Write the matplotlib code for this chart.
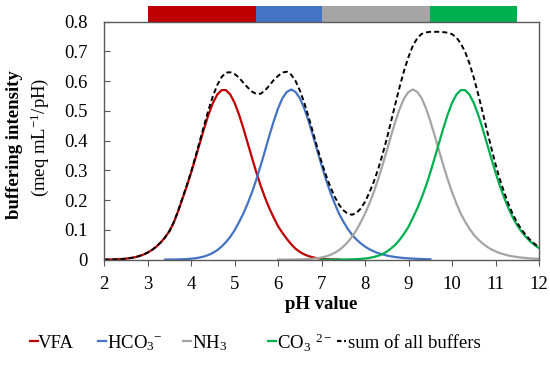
import numpy as np
import matplotlib
matplotlib.use('Agg')
import matplotlib.pyplot as plt
from matplotlib.lines import Line2D

ph = np.linspace(2.0, 12.0, 101)

vfa = [0.0003, 0.0005, 0.0009, 0.0014, 0.0022, 0.0035, 0.0055, 0.008, 0.012, 0.017,
       0.024, 0.033, 0.044, 0.058, 0.075, 0.096, 0.125, 0.163, 0.205, 0.248,
       0.293, 0.342, 0.392, 0.442, 0.488, 0.527, 0.555, 0.570, 0.570, 0.555,
       0.527, 0.488, 0.442, 0.392, 0.342, 0.293, 0.248, 0.208, 0.172, 0.141,
       0.112, 0.090, 0.070, 0.052, 0.037, 0.026, 0.018, 0.012, 0.008, 0.005,
       0.003, 0.002, 0.0013, 0.0008, 0.0005] + [None] * 46

hco3 = [None] * 14 + [
    0.0003, 0.0005, 0.0007, 0.001, 0.0015, 0.0022,
    0.0033, 0.005, 0.0075, 0.011, 0.016, 0.023, 0.032, 0.044, 0.059, 0.077,
    0.099, 0.126, 0.155, 0.189, 0.227, 0.270, 0.317, 0.367, 0.418, 0.466,
    0.509, 0.543, 0.564, 0.572, 0.564, 0.543, 0.509, 0.466, 0.418, 0.367,
    0.317, 0.270, 0.227, 0.189, 0.155, 0.128, 0.104, 0.084, 0.068, 0.055,
    0.044, 0.035, 0.028, 0.022, 0.018, 0.014, 0.011, 0.009, 0.007, 0.0057,
    0.0045, 0.0036, 0.0029, 0.0023, 0.0018, 0.0015] + [None] * 25

nh3 = [None] * 40 + [
    0.0001, 0.0002, 0.0003, 0.0005, 0.0007, 0.001, 0.0015, 0.0022, 0.0033, 0.005,
    0.0075, 0.011, 0.016, 0.023, 0.032, 0.044, 0.059, 0.077, 0.099, 0.126,
    0.155, 0.189, 0.227, 0.270, 0.317, 0.367, 0.418, 0.466, 0.509, 0.543,
    0.564, 0.572, 0.564, 0.543, 0.509, 0.466, 0.418, 0.367, 0.317, 0.270,
    0.227, 0.189, 0.155, 0.128, 0.104, 0.084, 0.068, 0.055, 0.044, 0.035,
    0.028, 0.022, 0.018, 0.014, 0.011, 0.009, 0.007, 0.0057, 0.0045, 0.0036,
    0.0029]

co3 = [None] * 50 + [
    0.0001, 0.0001, 0.0002, 0.0003, 0.0004, 0.0006, 0.0008, 0.0012, 0.0018, 0.0027,
    0.004, 0.006, 0.009, 0.013, 0.019, 0.027, 0.038, 0.051, 0.068, 0.088,
    0.111, 0.141, 0.172, 0.208, 0.248, 0.293, 0.342, 0.392, 0.442, 0.488,
    0.527, 0.555, 0.570, 0.570, 0.555, 0.527, 0.488, 0.442, 0.392, 0.342,
    0.293, 0.248, 0.208, 0.172, 0.141, 0.115, 0.094, 0.076, 0.061, 0.049,
    0.039]

total = [0.0003, 0.0005, 0.0009, 0.0014, 0.0022, 0.0035, 0.0055, 0.008, 0.012, 0.017,
         0.024, 0.033, 0.044, 0.058, 0.075, 0.096, 0.126, 0.164, 0.207, 0.250,
         0.296, 0.347, 0.400, 0.453, 0.504, 0.550, 0.587, 0.614, 0.629, 0.630,
         0.624, 0.612, 0.595, 0.579, 0.565, 0.557, 0.558, 0.569, 0.586, 0.604,
         0.618, 0.629, 0.632, 0.622, 0.601, 0.569, 0.528, 0.480, 0.429, 0.377,
         0.328, 0.284, 0.245, 0.212, 0.185, 0.166, 0.155, 0.151, 0.157, 0.172,
         0.195, 0.226, 0.262, 0.304, 0.353, 0.407, 0.466, 0.526, 0.584, 0.637,
         0.682, 0.720, 0.744, 0.759, 0.764, 0.766, 0.766, 0.766, 0.765, 0.763,
         0.758, 0.747, 0.727, 0.699, 0.660, 0.612, 0.557, 0.498, 0.437, 0.378,
         0.321, 0.270, 0.226, 0.186, 0.152, 0.124, 0.101, 0.082, 0.066, 0.053,
         0.042]

# buffer ranges shown as coloured bar above the plot
zone_start = [3.0, 5.5, 7.0, 9.5]
zone_end = [5.5, 7.0, 9.5, 11.5]

labels = ['VFA', 'HCO$_3$$^{-}$', 'NH$_3$', 'CO$_3$ $^{2-}$', 'sum of all buffers']
colors = ['#C00000', '#4472C4', '#A5A5A5', '#00B050', 'black']

plt.rcParams['font.family'] = 'Liberation Serif'
plt.rcParams['mathtext.fontset'] = 'custom'
plt.rcParams['mathtext.rm'] = 'Liberation Serif'
plt.rcParams['mathtext.it'] = 'Liberation Serif:italic'
plt.rcParams['mathtext.bf'] = 'Liberation Serif:bold'

W, H = 550, 374
fig = plt.figure(figsize=(W / 100, H / 100), dpi=100)
ax = fig.add_axes([104.2 / W, 1 - 259.7 / H, (539 - 104.2) / W, (259.7 - 21.7) / H])

for vals, c in zip([vfa, hco3, nh3, co3], colors[:4]):
    ax.plot(ph, np.array(vals, dtype=float), color=c, lw=1.6)
ax.plot(ph, np.array(total, dtype=float), color='black', lw=1.4, dashes=(2.6, 1.6))

# coloured zone bar above the axes
for s, e, c in zip(zone_start, zone_end, colors[:4]):
    ax.fill_between([s, e], 0.8, 0.854, color=c, lw=0, clip_on=False)

ax.set_xlim(2, 12)
ax.set_ylim(0, 0.8)
ax.set_xticks(range(2, 13))
ax.set_yticks([0, 0.1, 0.2, 0.3, 0.4, 0.5, 0.6, 0.7, 0.8])
ax.set_yticklabels(['0', '0.1', '0.2', '0.3', '0.4', '0.5', '0.6', '0.7', '0.8'])
ax.tick_params(axis='y', direction='in', length=4, pad=12, labelsize=13.5, color='#595959')
ax.tick_params(axis='x', direction='out', length=4, pad=8, labelsize=13.5, color='#595959')
for sp in ax.spines.values():
    sp.set_color('#595959')
    sp.set_linewidth(1.0)

ax.set_xlabel('pH value', fontsize=13.5, fontweight='bold', labelpad=2)
fig.text(15 / W, 1 - 145 / H, 'buffering intensity', rotation=90, fontsize=13.5,
         fontweight='bold', ha='center', va='center')
fig.text(40 / W, 1 - 137 / H, '(meq mL$^{-1}$/pH)', rotation=90, fontsize=13.5,
         ha='center', va='center')

# legend row drawn by hand (Excel style short handles)
handle_x = [30, 98, 183, 268, 337]
text_x = [38, 107, 192, 277, 348]
ly = 1 - 341 / H
for i in range(5):
    if i == 4:
        ln = Line2D([handle_x[i] / W, (handle_x[i] + 9) / W], [ly, ly],
                    color=colors[i], lw=1.6, dashes=(2, 1.2))
    else:
        ln = Line2D([handle_x[i] / W, (handle_x[i] + 8) / W], [ly, ly],
                    color=colors[i], lw=1.6)
    fig.add_artist(ln)
    fig.text(text_x[i] / W, ly, labels[i], fontsize=13.5, ha='left', va='center_baseline')

fig.savefig('out.png', dpi=100)
